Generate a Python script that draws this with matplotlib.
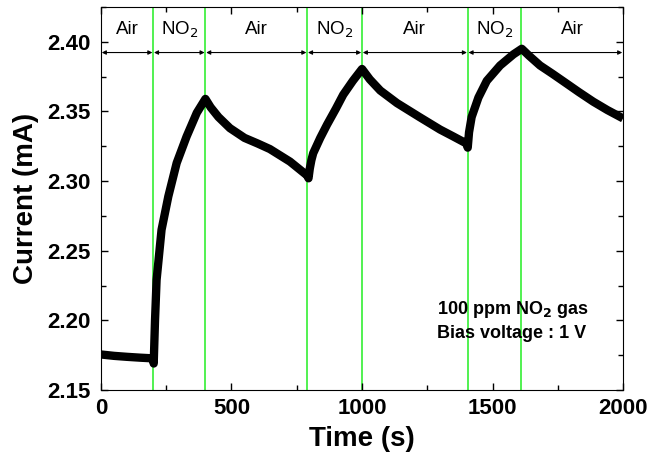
import numpy as np
import matplotlib
matplotlib.use("Agg")
import matplotlib.pyplot as plt
from matplotlib.ticker import MultipleLocator, FormatStrFormatter

plt.rcParams['font.family'] = ['Liberation Sans', 'DejaVu Sans']

# current response
time_s = [0, 50, 100, 150, 190, 200, 202, 207, 213, 232, 258, 290, 328, 367, 400,
          420, 450, 494, 550, 600, 647, 724, 790,
          795, 800, 806, 813, 840, 866, 900, 928, 965, 1000,
          1030, 1070, 1134, 1220, 1299, 1350, 1400,
          1405, 1410, 1420, 1446, 1478, 1529, 1580, 1612,
          1640, 1682, 1730, 1784, 1830, 1886, 1940, 2000]
current_ma = [2.1755, 2.1745, 2.1738, 2.1732, 2.1728, 2.1720, 2.1690, 2.2000, 2.2290, 2.2650, 2.2890, 2.3130, 2.3320, 2.3490, 2.3590,
              2.3530, 2.3460, 2.3380, 2.3310, 2.3270, 2.3230, 2.3140, 2.3040,
              2.3020, 2.3090, 2.3150, 2.3200, 2.3310, 2.3405, 2.3520, 2.3620, 2.3720, 2.3805,
              2.3730, 2.3650, 2.3560, 2.3460, 2.3370, 2.3320, 2.3270,
              2.3240, 2.3350, 2.3460, 2.3600, 2.3720, 2.3830, 2.3910, 2.3950,
              2.3900, 2.3830, 2.3770, 2.3700, 2.3640, 2.3570, 2.3510, 2.3450]

# gas switching times and phase labels
switch_times = [200, 400, 790, 1000, 1405, 1610]
phase_edges = [0] + switch_times + [2000]
phase_labels = ['Air', 'NO$_2$', 'Air', 'NO$_2$', 'Air', 'NO$_2$', 'Air']

fig = plt.figure(figsize=(6.49, 4.54), dpi=100)
ax = fig.add_axes([0.1556, 0.141, 0.8044, 0.8436])

for t in switch_times:
    ax.axvline(t, color='#22ee22', linewidth=1.1, zorder=1)

ax.plot(time_s, current_ma, color='black', linewidth=6.0,
        solid_joinstyle='round', solid_capstyle='butt', zorder=3)

# double-headed arrows marking each gas phase
arrow_y = 2.3923
label_y = 2.4086
for i, lab in enumerate(phase_labels):
    x0, x1 = phase_edges[i], phase_edges[i + 1]
    ax.annotate('', xy=(x0 + 3, arrow_y), xytext=(x1 - 3, arrow_y),
                arrowprops=dict(arrowstyle='<|-|>', color='black', lw=0.8,
                                mutation_scale=6, shrinkA=0, shrinkB=0),
                zorder=4)
    ax.text((x0 + x1) / 2, label_y, lab, ha='center', va='center', fontsize=13.5)

ax.text(1287, 2.2, '100 ppm NO$_\\mathbf{2}$ gas\nBias voltage : 1 V',
        fontsize=13, fontweight='bold', ha='left', va='center', linespacing=1.35)

ax.set_xlim(0, 2000)
ax.set_ylim(2.15, 2.425)
ax.xaxis.set_major_locator(MultipleLocator(500))
ax.xaxis.set_minor_locator(MultipleLocator(250))
ax.yaxis.set_major_locator(MultipleLocator(0.05))
ax.yaxis.set_minor_locator(MultipleLocator(0.025))
ax.yaxis.set_major_formatter(FormatStrFormatter('%.2f'))
ax.tick_params(which='both', direction='in', top=True, right=True, width=1)
ax.tick_params(which='major', length=5, labelsize=16)
ax.tick_params(axis='y', which='major', pad=7.5)
ax.tick_params(axis='x', which='major', pad=6)
ax.tick_params(which='minor', length=3.5)
for lbl in ax.get_xticklabels() + ax.get_yticklabels():
    lbl.set_fontweight('bold')

ax.set_xlabel('Time (s)', fontsize=20, fontweight='bold', labelpad=5)
ax.set_ylabel('Current (mA)', fontsize=20, fontweight='bold', labelpad=6)

fig.savefig('out.png', dpi=100)
